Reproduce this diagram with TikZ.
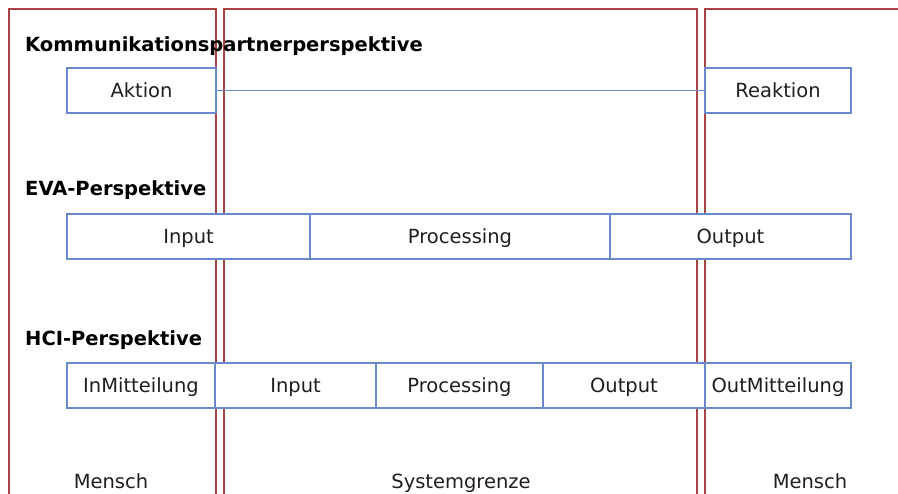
\documentclass[tikz,border=0pt]{standalone}
\usepackage{fontspec}
\setmainfont{DejaVu Sans}
\begin{document}
\begin{tikzpicture}[x=1pt,y=-1pt,
  panel/.style={draw=panelred, line width=1.2pt},
  stepbox/.style={draw=boxblue, fill=white, line width=1.2pt, rectangle, inner sep=0pt,
    minimum height=45pt, text height=14pt, text depth=0pt,
    font=\fontsize{19.5}{22}\selectfont, text=black!88},
  heading/.style={anchor=base west, inner sep=0pt, font=\fontsize{19.5}{22}\selectfont\bfseries},
  footer/.style={anchor=base, inner sep=0pt, font=\fontsize{19.5}{22}\selectfont, text=black!88}]
\definecolor{boxblue}{HTML}{6A88CC}
\definecolor{panelred}{HTML}{A84444}
\useasboundingbox (0,0) rectangle (898,494);
\fill[white] (0,0) rectangle (898,494);
% system boundary panels
\begin{scope}
\clip (0,0) rectangle (898,494);
\draw[panel] (9,500) -- (9,9) -- (216,9) -- (216,500);
\draw[panel] (224,500) -- (224,9) -- (697,9) -- (697,500);
\draw[panel] (705,500) -- (705,9) -- (905,9);
\end{scope}
% communication partner view
\node[heading] (h1) at (25,52) {Kommunikationspartnerperspektive};
\node[stepbox, minimum width=149pt] (aktion) at (141.5,90.5) {Aktion};
\node[stepbox, minimum width=146pt] (reaktion) at (778,90.5) {Reaktion};
\draw[boxblue, line width=1pt] (aktion.east) -- (reaktion.west);
% input-processing-output view
\node[heading] (h2) at (25,196) {EVA-Perspektive};
\node[stepbox, minimum width=243pt] (eIn) at (188.5,236.5) {Input};
\node[stepbox, minimum width=300pt] (eProc) at (460,236.5) {Processing};
\node[stepbox, minimum width=241pt] (eOut) at (730.5,236.5) {Output};
% HCI view
\node[heading] (h3) at (25,346) {HCI-Perspektive};
\node[stepbox, minimum width=148pt] (hInM) at (141,385.5) {InMitteilung};
\node[stepbox, minimum width=161pt] (hIn) at (295.5,385.5) {Input};
\node[stepbox, minimum width=167pt] (hProc) at (459.5,385.5) {Processing};
\node[stepbox, minimum width=162pt] (hOut) at (624,385.5) {Output};
\node[stepbox, minimum width=146pt] (hOutM) at (778,385.5) {OutMitteilung};
% footer labels
\node[footer] (m1) at (111,489) {Mensch};
\node[footer] (sg) at (461,489) {Systemgrenze};
\node[footer] (m2) at (810,489) {Mensch};
\end{tikzpicture}
\end{document}
